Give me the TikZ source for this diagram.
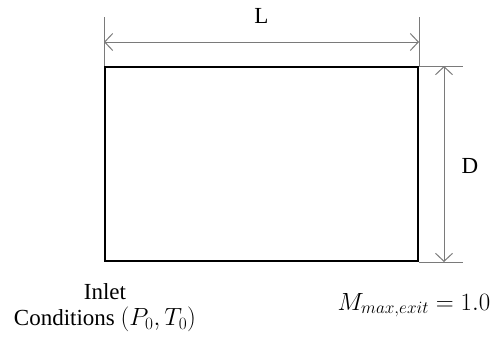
\documentclass[tikz,border=0pt]{standalone}
\usepackage{amsmath}
\usepackage{fontspec}
\setmainfont{Liberation Serif}
\usepackage{tikz}
\usetikzlibrary{calc,positioning,arrows.meta}
\definecolor{DimGray}{HTML}{7A7A7A}

\begin{document}
\begin{tikzpicture}[x=1pt,y=-1pt,font=\fontsize{23pt}{26pt}\selectfont,
      duct/.style={draw=black,line width=2pt,minimum width=313pt,minimum height=194pt,inner sep=0pt},
      ext/.style={draw=DimGray,line width=1pt},
      dim/.style={{Straight Barb[length=8pt,width=17pt]}-{Straight Barb[length=8pt,width=17pt]},line width=1pt,color=DimGray},
      lbl/.style={align=center,inner sep=0pt}]
      \useasboundingbox (0,0) rectangle (502,341);
      \node[duct] (box) at (261.5,164) {};
      % extension lines
      \coordinate (lt) at ($(box.north west)+(0,-49)$);
      \coordinate (rt) at ($(box.north east)+(0,-49)$);
      \coordinate (tr) at ($(box.north east)+(44,0)$);
      \coordinate (br) at ($(box.south east)+(44,0)$);
      \draw[ext] (box.north west) -- (lt);
      \draw[ext] (box.north east) -- (rt);
      \draw[ext] (box.north east) -- (tr);
      \draw[ext] (box.south east) -- (br);
      % dimensions
      \coordinate (la) at ($(box.north west)+(0,-24)$);
      \coordinate (lb) at ($(box.north east)+(0,-24)$);
      \coordinate (da) at ($(box.north east)+(25,0)$);
      \coordinate (db) at ($(box.south east)+(25,0)$);
      \draw[dim] (la) -- (lb);
      \draw[dim] (da) -- (db);
      \node[lbl,anchor=base] (L) at (261.5,23) {L};
      \node[lbl,anchor=base] (D) at (470,173) {D};
      \node[lbl] (inlet) at (105,308) {Inlet\\Conditions $(P_0,T_0)$};
      \node[lbl,anchor=base] (exit) at (414,310) {$M_{max,exit}=1.0$};
    \end{tikzpicture}
\end{document}
